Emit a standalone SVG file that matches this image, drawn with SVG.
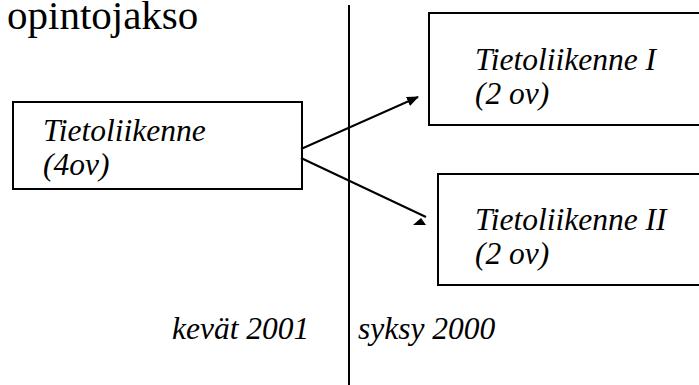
<svg xmlns="http://www.w3.org/2000/svg" width="699" height="385" viewBox="0 0 699 385">
<style>
.box{fill:#fff;stroke:#000;stroke-width:2}
.t{font-family:'Liberation Serif','Times New Roman',Times,serif;font-style:italic;font-size:31.5px;fill:#000}
.title{font-family:'Liberation Serif','Times New Roman',Times,serif;font-size:41px;fill:#000}
.ln{stroke:#000;stroke-width:2;fill:none}
</style>
<defs>
<marker id="ah" viewBox="0 0 12 10" refX="11" refY="5" markerWidth="12" markerHeight="10" markerUnits="userSpaceOnUse" orient="auto">
<path d="M0,0 L12,5 L0,10 Z" fill="#000"/>
</marker>
</defs>
<rect width="699" height="385" fill="#fff"/>
<text class="title" x="7" y="29">opintojakso</text>
<line class="ln" x1="349" y1="5" x2="349" y2="385"/>
<g id="node-tietoliikenne">
<rect class="box" x="13" y="102" width="289" height="87"/>
<text class="t" x="43" y="141">Tietoliikenne</text>
<text class="t" x="43" y="175">(4ov)</text>
</g>
<g id="node-tietoliikenne-i">
<rect class="box" x="429" y="13" width="290" height="112"/>
<text class="t" x="475" y="70">Tietoliikenne I</text>
<text class="t" x="475" y="104">(2 ov)</text>
</g>
<g id="node-tietoliikenne-ii">
<rect class="box" x="438" y="174" width="290" height="111"/>
<text class="t" x="475" y="230">Tietoliikenne II</text>
<text class="t" x="475" y="264">(2 ov)</text>
</g>
<g id="connectors">
<line class="ln" x1="301" y1="149" x2="418" y2="97" marker-end="url(#ah)"/>
<line class="ln" x1="301" y1="158" x2="426" y2="217"/>
<polygon points="413,225 421,218 426,225" fill="#000"/>
</g>
<g id="labels">
<text class="t" x="172" y="339">kevät 2001</text>
<text class="t" x="358" y="339">syksy 2000</text>
</g>
</svg>
